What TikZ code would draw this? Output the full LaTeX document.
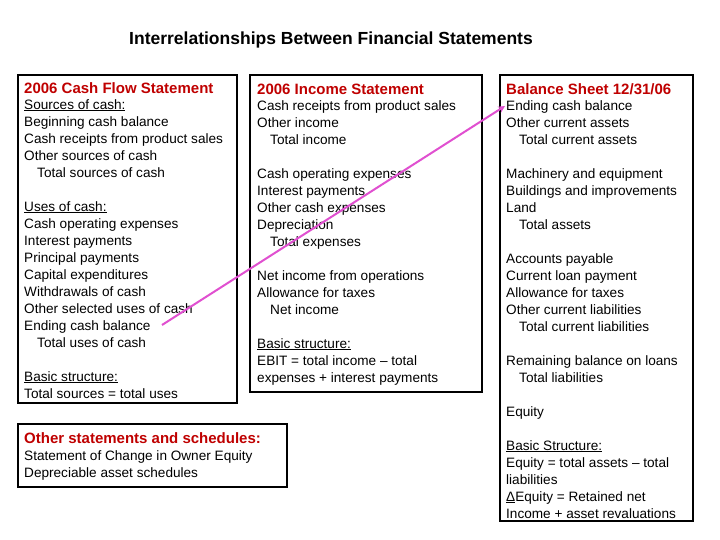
\documentclass[tikz,border=0pt]{standalone}
\usepackage{fontspec}
\setmainfont{Liberation Sans}
\begin{document}
\begin{tikzpicture}[x=1pt,y=-1pt,
 box/.style={draw,line width=1.8pt},
 txt/.style={anchor=north west,inner sep=0pt,align=left,font=\fontsize{13.6}{17}\selectfont},
 ttl/.style={anchor=west,inner sep=0pt,text=red!75!black,font=\bfseries\fontsize{15}{17}\selectfont}]
\useasboundingbox (0,0) rectangle (720,540);
\node[font=\bfseries\fontsize{17.5}{20}\selectfont] (main) at (331,40) {Interrelationships Between Financial Statements};
\draw[box] (18,75) rectangle (237,403);
\draw[box] (250,75) rectangle (482,392);
\draw[box] (500,75) rectangle (693,521);
\draw[box] (18,424) rectangle (287,487);
\node[ttl] (t1) at (24,88) {2006 Cash Flow Statement};
\node[ttl] (t2) at (257,89) {2006 Income Statement};
\node[ttl] (t3) at (506,89) {Balance Sheet 12/31/06};
\node[ttl] (t4) at (24,438) {Other statements and schedules:};
\newcommand\ind{\hspace*{13pt}}
\node[txt] (c1) at (24,99) {\underline{Sources of cash:}\\Beginning cash balance\\Cash receipts from product sales\\Other sources of cash\\\ind Total sources of cash\\\mbox{}\\\underline{Uses of cash:}\\Cash operating expenses\\Interest payments\\Principal payments\\Capital expenditures\\Withdrawals of cash\\Other selected uses of cash\\Ending cash balance\\\ind Total uses of cash\\\mbox{}\\\underline{Basic structure:}\\Total sources = total uses};
\node[txt] (c2) at (257,100) {Cash receipts from product sales\\Other income\\\ind Total income\\\mbox{}\\Cash operating expenses\\Interest payments\\Other cash expenses\\Depreciation\\\ind Total expenses\\\mbox{}\\Net income from operations\\Allowance for taxes\\\ind Net income\\\mbox{}\\\underline{Basic structure:}\\EBIT = total income -- total\\expenses + interest payments};
\node[txt] (c3) at (506,100) {Ending cash balance\\Other current assets\\\ind Total current assets\\\mbox{}\\Machinery and equipment\\Buildings and improvements\\Land\\\ind Total assets\\\mbox{}\\Accounts payable\\Current loan payment\\Allowance for taxes\\Other current liabilities\\\ind Total current liabilities\\\mbox{}\\Remaining balance on loans\\\ind Total liabilities\\\mbox{}\\Equity\\\mbox{}\\\underline{Basic Structure:}\\Equity = total assets -- total\\liabilities\\\underline{Δ}Equity = Retained net\\Income + asset revaluations};
\node[txt] (c4) at (24,450) {Statement of Change in Owner Equity\\Depreciable asset schedules};
\coordinate (a) at (162,325);
\coordinate (b) at (505,106);
\draw[-stealth,line width=2pt,color={rgb,255:red,224;green,80;blue,208}] (a) -- (b);
\end{tikzpicture}
\end{document}
